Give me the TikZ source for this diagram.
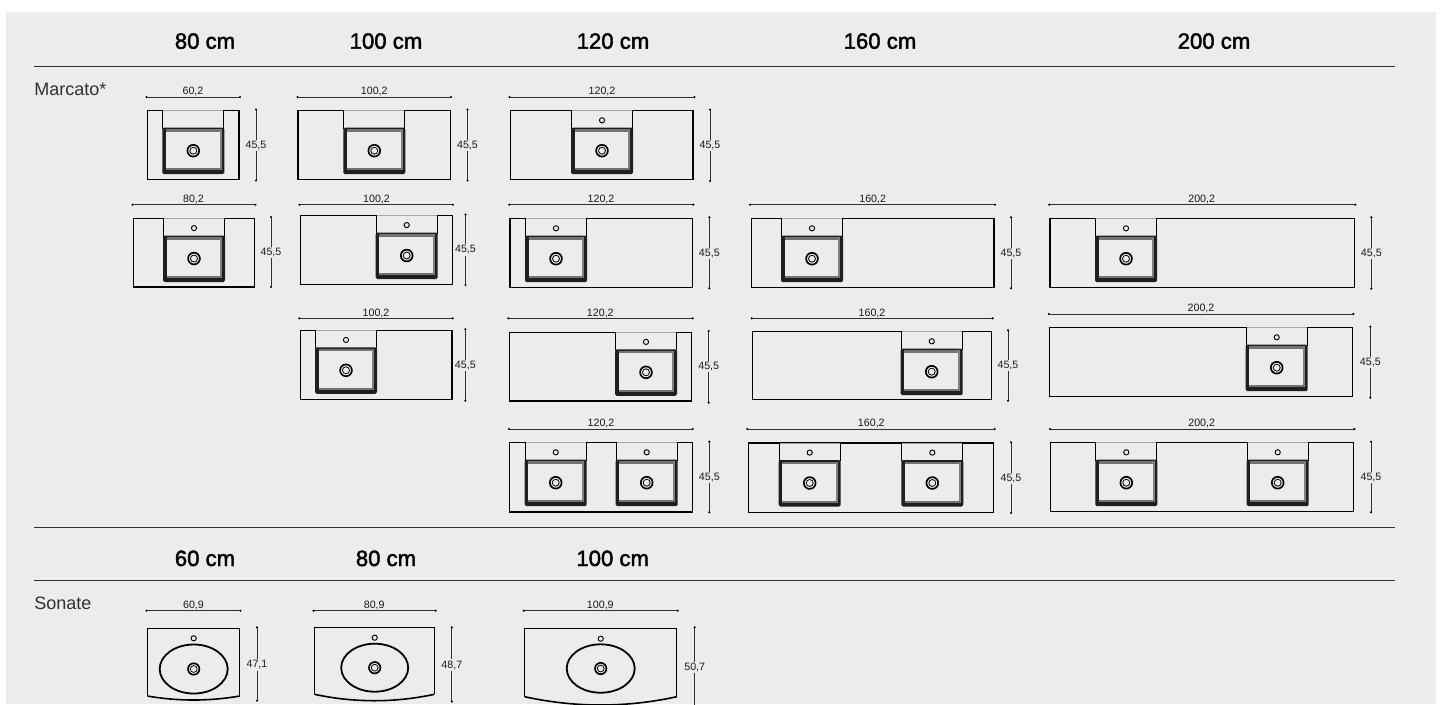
\documentclass[tikz,border=0pt]{standalone}
\usepackage{fontspec}
\setmainfont{Liberation Sans}
\newcommand\headstroke[1]{\special{pdf:code q 2 Tr 0.32 w 0 0 0 RG}#1\special{pdf:code Q}}
\definecolor{panel}{HTML}{ECECEB}
\definecolor{ink}{HTML}{1A1A1A}
\tikzset{
  x=0.75pt,y=-0.75pt,
  rule/.style={draw=ink!90,line width=0.75pt},
  counter/.style={draw=black,line width=0.9pt},
  dimline/.style={draw=ink!90,line width=0.6pt},
  dimtext/.style={font=\fontsize{8}{9}\selectfont,text=ink,inner sep=0pt},
  headtext/.style={font=\fontsize{16.6}{18}\selectfont,text=black,inner sep=0pt,anchor=base},
  nametext/.style={font=\fontsize{13.5}{15}\selectfont,text=ink!90,inner sep=0pt,anchor=base west},
}
% counter top: x1 y1 x2 y2
\newcommand\slab[4]{\draw[counter,line join=miter] (#1,#2) rectangle (#3,#4);}
% basin without tap: cx top
\newcommand\basinbody[2]{%
  \draw[counter] (#1-30.5,#2) -- (#1-30.5,#2+18) (#1+30.5,#2) -- (#1+30.5,#2+18);
  \draw[draw=gray!70,line width=0.6pt] (#1-30,#2) -- (#1+30,#2);
  \fill[black!88,rounded corners=1.2pt] (#1-31,#2+17) rectangle (#1+31,#2+63.5);
  \fill[black!55] (#1-27.3,#2+18.6) rectangle (#1+27.5,#2+21);
  \fill[black!50] (#1+26,#2+18.6) rectangle (#1+28.3,#2+59.5);
  \fill[black!55] (#1-27.5,#2+57) rectangle (#1+27.5,#2+59.5);
  \fill[panel] (#1-27.4,#2+21) rectangle (#1+26.2,#2+57.5);
  \draw[black,line width=1.25pt] (#1,#2+40) circle (5.9);
  \draw[black,line width=0.6pt] (#1,#2+40) circle (3.5);
}
\newcommand\tapmark[2]{\draw[black,line width=0.7pt] (#1,#2+9.6) circle (2.6);}
\newcommand\basin[2]{\basinbody{#1}{#2}\tapmark{#1}{#2}}
% horizontal dimension: x1 x2 y label labelx
\newcommand\hdim[5]{%
  \draw[dimline] (#1,#3) -- (#2,#3);
  \fill[black] (#1,#3) circle (1.2) (#2,#3) circle (1.2);
  \node[dimtext,anchor=base] at (#5,#3-2.2) {#4};
}
% vertical dimension: x y1 y2 label labely
\newcommand\vdim[5]{%
  \draw[dimline] (#1,#2) -- (#1,#3);
  \fill[black] (#1,#2) circle (1.2) (#1,#3) circle (1.2);
  \node[dimtext,fill=panel,inner xsep=0pt,inner ysep=1pt] at (#1,#5) {#4};
}
% Sonate top: x1 x2 top side mid
\newcommand\sonate[5]{%
  \draw[black,line width=0.85pt,line join=miter] (#1,#4) -- (#1,#3) -- (#2,#3) -- (#2,#4);
  \draw[black,line width=1.2pt] (#1,#4) .. controls (#1+0.33*#2-0.33*#1,#5+#5/3-#4/3) and (#2-0.33*#2+0.33*#1,#5+#5/3-#4/3) .. (#2,#4);
}
\newcommand\bowl[5]{% cx cy rx ry tapy
  \draw[black,line width=1.35pt] (#1,#2) ellipse ({#3} and {#4});
  \draw[black,line width=1.25pt] (#1,#2) circle (5.7);
  \draw[black,line width=0.6pt] (#1,#2) circle (3.4);
  \draw[black,line width=0.7pt] (#1,#5) circle (2.6);
}
\begin{document}
\begin{tikzpicture}
\clip (0,0) rectangle (1442,704);
\fill[white] (0,0) rectangle (1442,704);
\fill[panel] (6,12) rectangle (1436,704);

% rules
\draw[rule] (34,66.7) -- (1395,66.7);
\draw[rule] (34,527.7) -- (1395,527.7);
\draw[rule] (34,580.7) -- (1395,580.7);

% headings
\node[headtext] (h80) at (205,48.7) {\headstroke{80 cm}};
\node[headtext] (h100) at (386,48.7) {\headstroke{100 cm}};
\node[headtext] (h120) at (613,48.7) {\headstroke{120 cm}};
\node[headtext] (h160) at (880,48.7) {\headstroke{160 cm}};
\node[headtext] (h200) at (1214,48.7) {\headstroke{200 cm}};
\node[headtext] (h60b) at (205,566) {\headstroke{60 cm}};
\node[headtext] (h80b) at (386,566) {\headstroke{80 cm}};
\node[headtext] (h100b) at (612.7,566) {\headstroke{100 cm}};
\node[nametext] (marcato) at (34,95.3) {Marcato*};
\node[nametext] (sonate) at (34,609) {Sonate};

% Row 1
\slab{147.5}{110.7}{239}{179.5}\basinbody{193.3}{110.7}
\hdim{146.5}{240}{97}{60,2}{193}\vdim{256}{109.5}{180.5}{45,5}{145.5}
\slab{298}{110.7}{450.5}{179.5}\basinbody{374.3}{110.7}
\hdim{297.5}{451}{97}{100,2}{374.3}\vdim{467.5}{109.5}{180.5}{45,5}{145.5}
\slab{510.5}{110.7}{693}{179.5}\basin{602}{110.7}
\hdim{509.5}{694.5}{97}{120,2}{602}\vdim{710}{109.5}{181}{45,5}{145.5}

% Row 2
\slab{133.5}{218.5}{254.5}{287}\basin{194}{218.5}
\hdim{132.5}{255.5}{204.7}{80,2}{193.5}\vdim{271}{217}{287}{45,5}{252.5}
\slab{300.5}{215.5}{452.5}{284.3}\basin{406.7}{215.5}
\hdim{299.5}{453}{204.7}{100,2}{376.5}\vdim{465.5}{214.5}{285}{45,5}{250}
\slab{510}{218.7}{692.3}{287.3}\basin{556}{218.7}
\hdim{509.3}{693.3}{204.7}{120,2}{601}\vdim{709.3}{217.3}{288.3}{45,5}{253.3}
\slab{751.3}{218.7}{994}{287.3}\basin{812}{218.7}
\hdim{750}{995}{204.7}{160,2}{872.7}\vdim{1011}{217.3}{288.3}{45,5}{253.3}
\slab{1050}{218.7}{1354.3}{287.7}\basin{1126}{218.7}
\hdim{1049.3}{1355.3}{204.7}{200,2}{1201.7}\vdim{1371.3}{217.3}{288.7}{45,5}{253.3}

% Row 3
\slab{300.3}{330.3}{452}{399.3}\basin{346}{330.3}
\hdim{299.3}{452.7}{318.3}{100,2}{376}\vdim{465.3}{329.3}{400.7}{45,5}{365.3}
\slab{509.3}{332.3}{691.7}{401}\basin{646}{332.3}
\hdim{508.3}{692.7}{318.3}{120,2}{600.3}\vdim{708.7}{331}{402.7}{45,5}{366.7}
\slab{752.7}{331.7}{991.7}{399.7}\basin{931.7}{331.7}
\hdim{751.7}{992.7}{318.3}{160,2}{872}\vdim{1008}{330.3}{400.7}{45,5}{365.3}
\slab{1049.7}{327.7}{1352.7}{396.7}\basin{1276.7}{327.7}
\hdim{1048.7}{1353.3}{314}{200,2}{1201}\vdim{1370.3}{326.7}{397.7}{45,5}{362.3}

% Row 4
\slab{509.3}{442.7}{692.7}{512}\basin{555.7}{442.7}\basin{646.7}{442.7}
\hdim{509}{692.7}{429}{120,2}{601}\vdim{709.3}{441.7}{512.3}{45,5}{477.3}
\slab{748.3}{443}{993.7}{512.7}\basin{809.7}{443}\basin{932.3}{443}
\hdim{747.3}{994.7}{429}{160,2}{871.3}\vdim{1011}{442.3}{513}{45,5}{478.3}
\slab{1050.7}{442.7}{1353.3}{511.3}\basin{1126.3}{442.7}\basin{1277.7}{442.7}
\hdim{1050}{1354.3}{429}{200,2}{1201.7}\vdim{1371}{441.7}{512.3}{45,5}{477.3}

% Sonate
\sonate{147.4}{239.7}{628.3}{696}{700}
\bowl{193.7}{669}{34}{24.5}{638.3}
\hdim{146.5}{240.5}{610.7}{60,9}{193.5}\vdim{257}{627.3}{700.7}{47,1}{665}
\sonate{314.5}{434.3}{627.7}{694.3}{700.7}
\bowl{374.7}{667.7}{33.5}{24}{637.7}
\hdim{313.6}{435.7}{610.7}{80,9}{374.2}\vdim{451.8}{627.3}{701.5}{48,7}{665}
\sonate{524.7}{676.7}{628.7}{696.7}{705}
\bowl{600.7}{668.5}{34}{24.2}{638.7}
\hdim{523.7}{677.7}{610.7}{100,9}{600.3}\vdim{694.7}{627.3}{712}{50,7}{667.3}
\end{tikzpicture}
\end{document}
